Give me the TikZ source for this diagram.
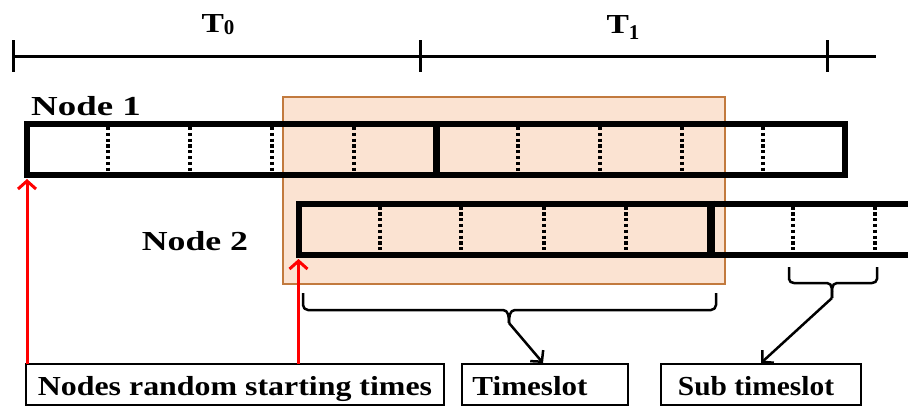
\documentclass[tikz,border=0pt]{standalone}
\usepackage{fontspec}
\setmainfont{Liberation Serif}
\usetikzlibrary{arrows.meta}
\definecolor{peach}{HTML}{FBE3D2}
\definecolor{peachline}{HTML}{C27A3E}
\definecolor{arrred}{HTML}{FF0000}
\newcommand\sx[2]{\scalebox{#1}[1]{#2}}
\begin{document}
\begin{tikzpicture}[x=1pt,y=-1pt,
  lbl/.style={inner sep=0pt,anchor=base,font=\bfseries\fontsize{27.5}{27.5}\selectfont},
  bar/.style={line width=6pt,line join=miter},
  divthick/.style={line width=8pt},
  subdiv/.style={line width=3.5pt,dash pattern=on 3.2pt off 2.6pt},
  tl/.style={line width=3pt},
  redarr/.style={draw=arrred,line width=3pt,-{Straight Barb[length=8pt,width=18pt,line width=3pt]}},
  blkarr/.style={line width=2.5pt,-{Straight Barb[length=8pt,width=17pt,line width=2.5pt]}},
  brace/.style={line width=2.5pt,line join=round},
  boxlbl/.style={draw,line width=2pt,inner sep=0pt,minimum height=41pt}]
\useasboundingbox (0,0) rectangle (908,408);
% timeline
\coordinate (tl0) at (13,56);
\coordinate (tl1) at (876,56);
\draw[tl] (tl0) -- (tl1);
\draw[tl] (13,40) -- (13,72);
\draw[tl] (420,40) -- (420,72);
\draw[tl] (827,40) -- (827,72);
\node[lbl] (T0) at (218,32) {\sx{1.22}{T}\raisebox{-2pt}{\fontsize{21}{21}\selectfont 0}};
\node[lbl] (T1) at (623,33) {\sx{1.22}{T}\raisebox{-6pt}{\fontsize{21}{21}\selectfont 1}};
% orange window
\fill[peach,draw=peachline,line width=1.5pt] (283,97) rectangle (725,284);
% node 1 bar
\node[lbl] (n1) at (86,115) {\sx{1.34}{Node 1}};
\draw[bar] (27,124) rectangle (845,174.5);
\foreach \x in {108,190,272,354,518,600,682,763}
  \draw[subdiv] (\x,127) -- (\x,171.5);
\draw[divthick,line width=7pt] (436.5,121) -- (436.5,177.5);
% node 2 bar
\node[lbl] (n2) at (195,250) {\sx{1.3}{Node 2}};
\draw[bar] (908,203.5) -- (298.5,203.5) -- (298.5,255) -- (908,255);
\foreach \x in {380,461,544,626,793,875}
  \draw[subdiv] (\x,206.5) -- (\x,252);
\draw[divthick] (710.5,200.5) -- (710.5,258);
% bottom labels
\node[boxlbl,minimum width=418pt] (b1) at (235,384.5) {};
\node[lbl] at (235,395) {\sx{1.16}{Nodes random starting times}};
\node[boxlbl,minimum width=166pt] (b2) at (545,384.5) {};
\node[lbl] at (530,395) {\sx{1.13}{Timeslot}};
\node[boxlbl,minimum width=200pt] (b3) at (761,384.5) {};
\node[lbl] at (756,395) {\sx{1.07}{Sub timeslot}};
% red arrows
\draw[redarr] (27,364) -- (27,179);
\draw[redarr] (298.5,364) -- (298.5,259);
% timeslot brace
\coordinate (tip1) at (509,323);
\draw[brace] (303,293) -- (303,305) to[out=-90,in=180] (308,310) -- (503,310)
  to[out=0,in=90] (tip1);
\draw[brace] (716,293) -- (716,305) to[out=-90,in=0] (711,310) -- (515,310)
  to[out=180,in=90] (tip1);
\draw[blkarr] (tip1) -- (543,363);
% sub timeslot brace
\coordinate (tip2) at (832,298);
\draw[brace] (789,267) -- (789,279) to[out=-90,in=180] (794,283) -- (827,283)
  to[out=0,in=90] (tip2);
\draw[brace] (877,267) -- (877,279) to[out=-90,in=0] (872,283) -- (837,283)
  to[out=180,in=90] (tip2);
\draw[blkarr] (tip2) -- (761,363);
\end{tikzpicture}
\end{document}
